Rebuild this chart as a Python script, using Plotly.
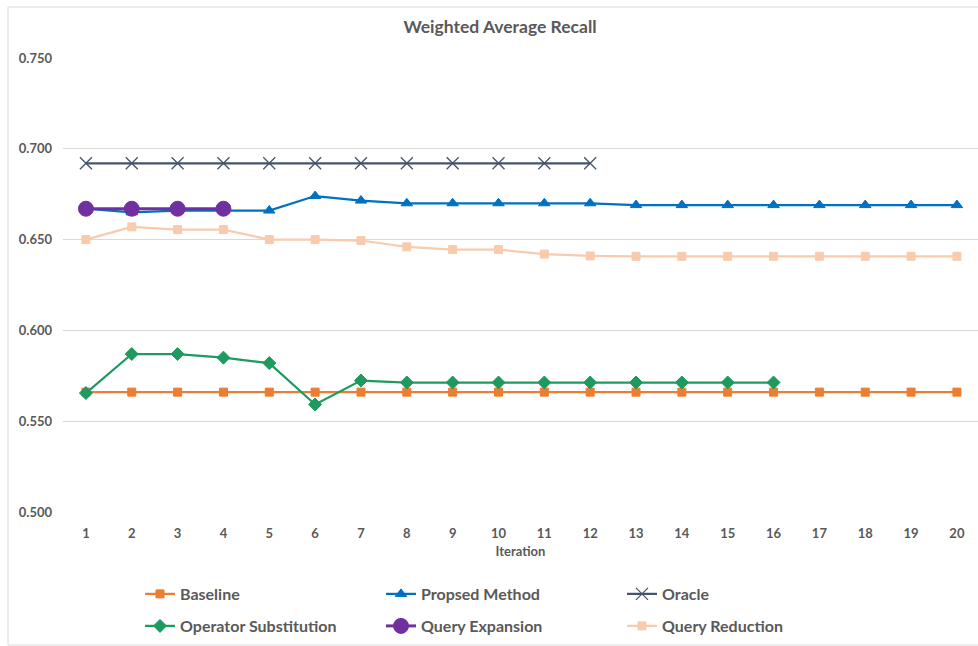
import plotly.graph_objects as go

iterations = list(range(1, 21))
baseline = [0.566] * 20
proposed = [0.667, 0.665, 0.666, 0.666, 0.666, 0.674, 0.6715, 0.670, 0.670, 0.670,
            0.670, 0.670, 0.669, 0.669, 0.669, 0.669, 0.669, 0.669, 0.669, 0.669]
oracle = [0.692] * 12
operator_sub = [0.5655, 0.587, 0.587, 0.585, 0.582, 0.5592, 0.5724, 0.5713, 0.5713, 0.5713,
                0.5713, 0.5713, 0.5713, 0.5713, 0.5713, 0.5713]
query_exp = [0.667, 0.667, 0.667, 0.667]
query_red = [0.650, 0.657, 0.6555, 0.6555, 0.650, 0.650, 0.6495, 0.646, 0.6445, 0.6445,
             0.642, 0.641, 0.6408, 0.6408, 0.6408, 0.6408, 0.6408, 0.6408, 0.6408, 0.6408]
y_ticks = [0.50, 0.55, 0.60, 0.65, 0.70, 0.75]

FONT = "Lato"
GREY = "#595959"

fig = go.Figure()

def add(name, y, color, symbol, size, legend, width=2.25):
    fig.add_trace(go.Scatter(
        x=iterations[:len(y)], y=y, name=name, mode="lines+markers",
        line=dict(color=color, width=width),
        marker=dict(symbol=symbol, size=size, color=color, line=dict(color=color, width=1)),
        legend=legend,
    ))

add("Baseline", baseline, "#ED7D31", "square", 8, "legend")
add("Propsed Method", proposed, "#0070C0", "triangle-up", 10, "legend")
fig.add_trace(go.Scatter(
    x=iterations[:len(oracle)], y=oracle, name="Oracle", mode="lines+markers",
    line=dict(color="#44546A", width=2.25),
    marker=dict(symbol="x-thin", size=12, line=dict(color="#44546A", width=1.3)),
    legend="legend",
))
add("Operator Substitution", operator_sub, "#1F9A5F", "diamond", 10, "legend2")
add("Query Expansion", query_exp, "#7030A0", "circle", 15, "legend2", width=3)
add("Query Reduction", query_red, "#F8CBAD", "square", 8, "legend2")

legend_common = dict(
    orientation="h", xref="paper", yref="container", xanchor="left", yanchor="middle",
    x=(140 - 63) / 915, font=dict(family=FONT, size=16, color=GREY, weight="bold"),
    entrywidth=196, entrywidthmode="pixels", itemwidth=30,
    bgcolor="rgba(0,0,0,0)", tracegroupgap=0, itemclick=False,
)

fig.update_layout(
    width=978, height=646,
    margin=dict(l=63, r=0, t=58, b=134, autoexpand=False),
    paper_bgcolor="white", plot_bgcolor="white",
    title=dict(text="<b>Weighted Average Recall</b>", x=500 / 978, xref="container",
               y=1 - 27 / 646, yref="container", xanchor="center", yanchor="middle",
               font=dict(family=FONT, size=17.5, color=GREY)),
    xaxis=dict(range=[0.5, 20.46], tickmode="array", tickvals=iterations,
               ticktext=[f"<b>{i}</b>" for i in iterations],
               showgrid=False, zeroline=False, showline=False, ticks="",
               tickfont=dict(family=FONT, size=13, color=GREY), ticklabelstandoff=12,
               title=dict(text="<b>Iteration</b>", font=dict(family=FONT, size=13, color=GREY), standoff=6)),
    yaxis=dict(range=[0.5, 0.75], tickmode="array", tickvals=y_ticks,
               ticktext=[f"<b>{v:.3f}</b>" for v in y_ticks],
               showgrid=True, gridcolor="#D9D9D9", gridwidth=1, zeroline=False, showline=False,
               ticks="", tickfont=dict(family=FONT, size=13, color=GREY), ticklabelstandoff=10),
    legend=dict(**legend_common, y=1 - 594 / 646),
    legend2=dict(**legend_common, y=1 - 626 / 646),
    showlegend=True,
    shapes=[dict(type="rect", xref="paper", yref="paper",
                 x0=(8 - 63) / 915, x1=1.02, y0=(512 - 645) / 454, y1=(512 - 7) / 454,
                 line=dict(color="#D9D9D9", width=1), fillcolor="rgba(0,0,0,0)", layer="below")],
)

fig.write_html("out.html", config={"displayModeBar": False},
               post_script="document.body.style.margin='0';")
